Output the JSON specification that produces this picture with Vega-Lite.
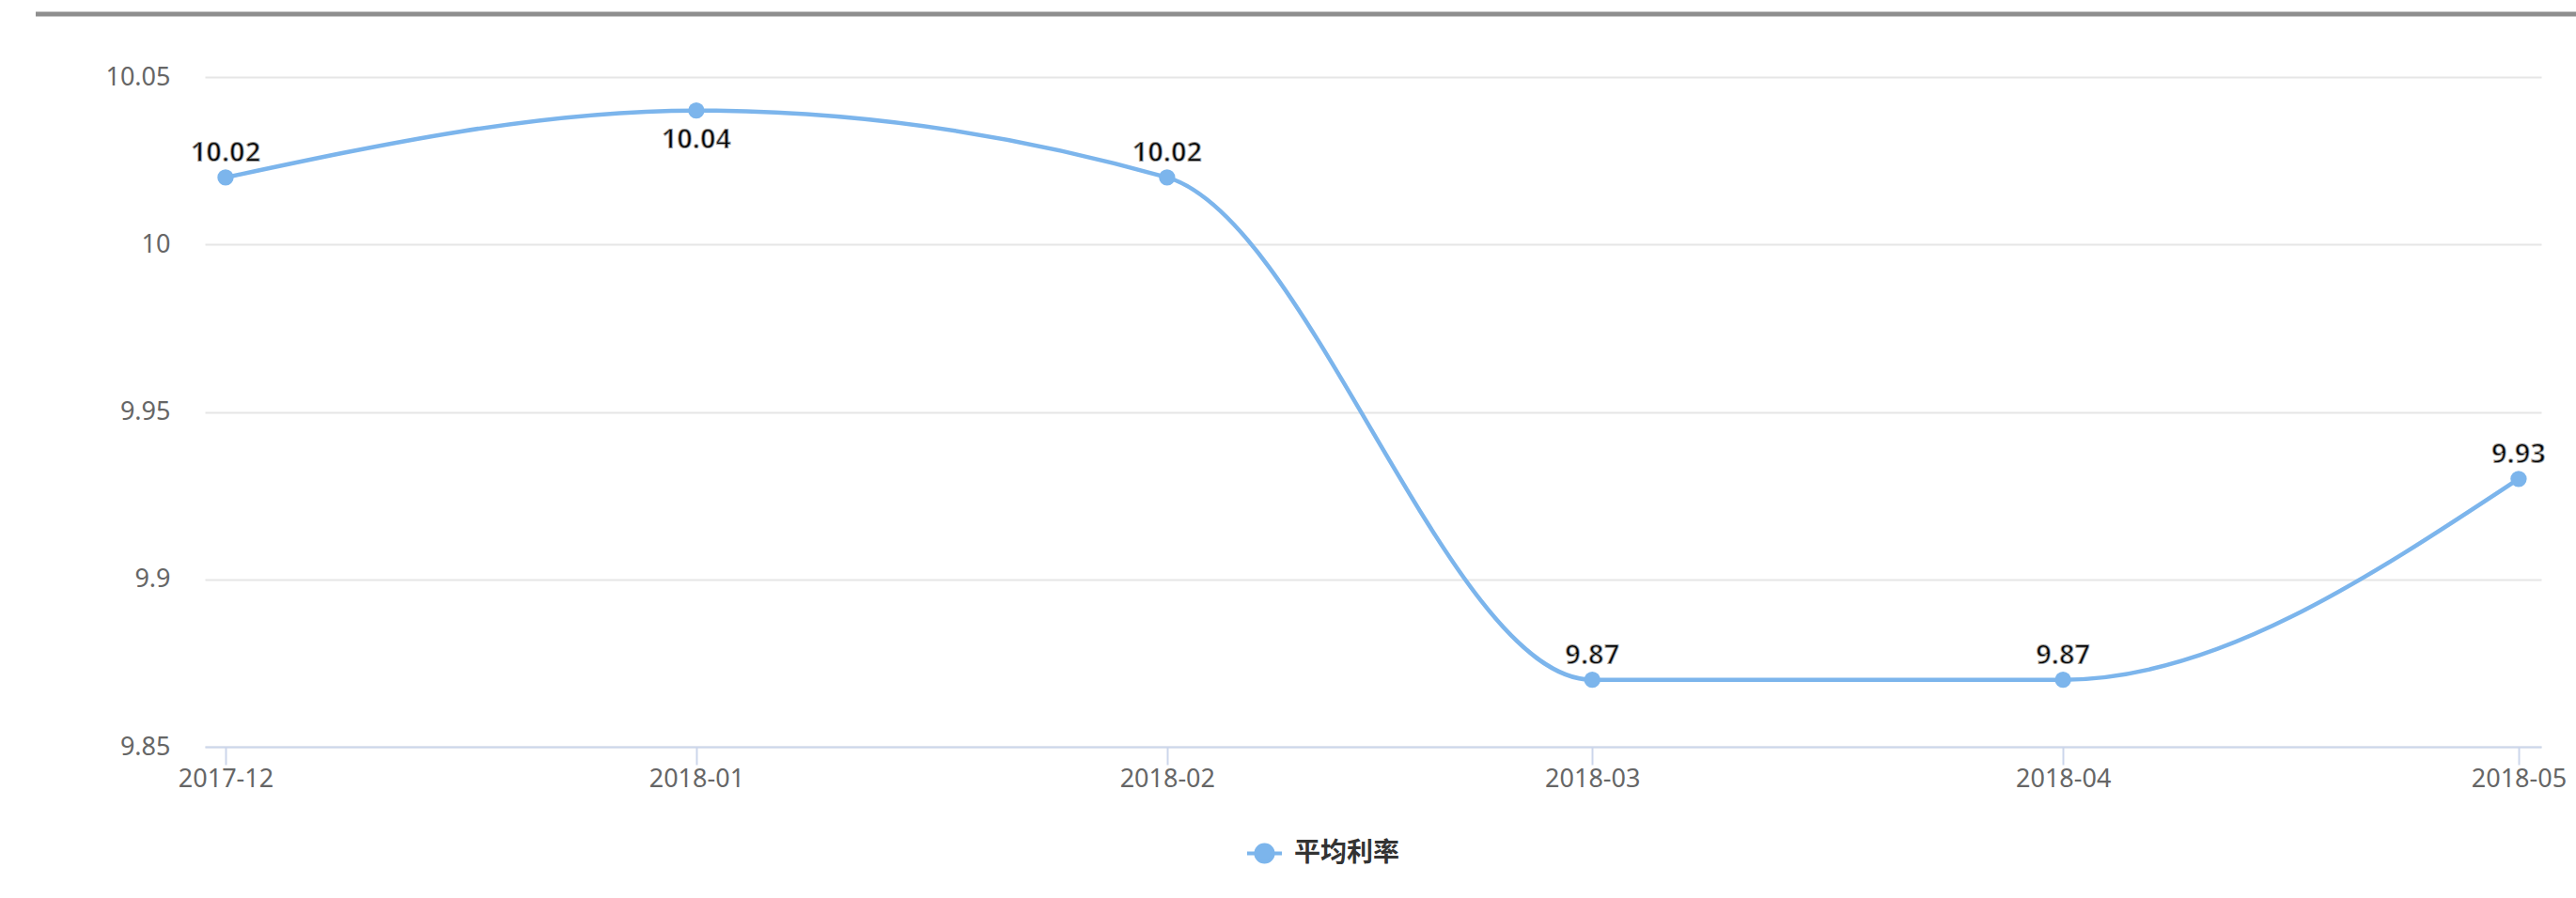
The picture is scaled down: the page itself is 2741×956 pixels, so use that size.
{
  "$schema": "https://vega.github.io/schema/vega-lite/v6.json",
  "width": 2486,
  "height": 713,
  "autosize": {"type": "none"},
  "padding": {"left": 218, "top": 82, "right": 37, "bottom": 161},
  "background": "white",
  "config": {"view": {"stroke": null}, "font": "Noto Sans"},
  "title": {
    "text": "http://www.intdata.com",
    "orient": "bottom",
    "anchor": "end",
    "frame": "group",
    "offset": 148,
    "baseline": "top",
    "fontSize": 20,
    "fontWeight": "normal",
    "color": "#999999",
    "font": "Noto Sans"
  },
  "datasets": {
    "rates": [
      {"month": "2017-12-01", "rate": 10.02, "series": "平均利率"},
      {"month": "2018-01-01", "rate": 10.04, "series": "平均利率"},
      {"month": "2018-02-01", "rate": 10.02, "series": "平均利率"},
      {"month": "2018-03-01", "rate": 9.87, "series": "平均利率"},
      {"month": "2018-04-01", "rate": 9.87, "series": "平均利率"},
      {"month": "2018-05-01", "rate": 9.93, "series": "平均利率"}
    ],
    "frame": [
      {"part": "top border"}
    ]
  },
  "data": {"name": "rates"},
  "layer": [
    {
      "mark": {"type": "line", "interpolate": "monotone", "strokeWidth": 4.5},
      "encoding": {
        "x": {
          "field": "month",
          "type": "temporal",
          "scale": {
            "type": "utc",
            "domain": [
              {"year": 2017, "month": 11, "date": 29, "hours": 15, "minutes": 20, "utc": true},
              {"year": 2018, "month": 5, "date": 2, "hours": 11, "minutes": 45, "utc": true}
            ]
          },
          "axis": {
            "title": null,
            "values": [
              {"year": 2017, "month": 12, "date": 1, "utc": true},
              {"year": 2018, "month": 1, "date": 1, "utc": true},
              {"year": 2018, "month": 2, "date": 1, "utc": true},
              {"year": 2018, "month": 3, "date": 1, "utc": true},
              {"year": 2018, "month": 4, "date": 1, "utc": true},
              {"year": 2018, "month": 5, "date": 1, "utc": true}
            ],
            "labelExpr": "utcFormat(datum.value, '%Y-%m')",
            "grid": false,
            "domainColor": "#ccd6eb",
            "domainWidth": 2,
            "tickColor": "#ccd6eb",
            "tickWidth": 2,
            "tickSize": 19,
            "labelPadding": 2,
            "labelFont": "Noto Sans",
            "labelFontSize": 27,
            "labelColor": "#666666",
            "labelBaseline": "top",
            "labelFlush": false,
            "labelOverlap": false
          }
        },
        "y": {
          "field": "rate",
          "type": "quantitative",
          "scale": {"domain": [9.85, 10.05], "nice": false, "zero": false},
          "axis": {
            "title": null,
            "values": [9.85, 9.9, 9.95, 10, 10.05],
            "format": "~f",
            "domain": false,
            "ticks": false,
            "tickSize": 0,
            "labelPadding": 37,
            "gridColor": "#e6e6e6",
            "gridWidth": 2,
            "labelFont": "Noto Sans",
            "labelFontSize": 27,
            "labelColor": "#666666"
          }
        },
        "color": {
          "field": "series",
          "type": "nominal",
          "scale": {"range": ["#7cb5ec"]},
          "legend": {
            "orient": "none",
            "legendX": 1107,
            "legendY": 806,
            "title": null,
            "symbolType": "M-1,0L1,0M0.49,0A0.49,0.49,0,1,1,-0.49,0A0.49,0.49,0,1,1,0.49,0Z",
            "symbolSize": 1369,
            "symbolStrokeWidth": 4,
            "symbolFillColor": "#7cb5ec",
            "symbolStrokeColor": "#7cb5ec",
            "labelFont": "Noto Sans CJK SC",
            "labelFontSize": 28,
            "labelFontWeight": "bold",
            "labelColor": "#333333",
            "labelOffset": 11,
            "labelLimit": 400,
            "encode": {
              "symbols": {
                "update": {
                  "fill": {"value": "#7cb5ec"},
                  "stroke": {"value": "#7cb5ec"},
                  "strokeWidth": {"value": 4},
                  "opacity": {"value": 1}
                }
              }
            }
          }
        }
      }
    },
    {
      "data": {"name": "frame"},
      "mark": {"type": "rule", "color": "#8e8e8e", "strokeWidth": 5, "clip": false},
      "encoding": {
        "x": {"datum": 1511006400000, "type": "temporal"},
        "x2": {"datum": 1525564800000},
        "y": {"datum": 10.0688, "type": "quantitative"}
      }
    },
    {
      "mark": {"type": "point", "filled": true, "size": 300, "opacity": 1},
      "encoding": {
        "x": {"field": "month", "type": "temporal"},
        "y": {"field": "rate", "type": "quantitative"},
        "color": {"field": "series", "type": "nominal"}
      }
    },
    {
      "transform": [{"filter": "datum.rate != 10.04"}],
      "mark": {
        "type": "text",
        "dy": -17,
        "baseline": "alphabetic",
        "font": "Noto Sans",
        "fontSize": 29,
        "fontWeight": "bold",
        "color": "#000000",
        "stroke": "#ffffff",
        "strokeWidth": 2,
        "strokeOpacity": 0.6
      },
      "encoding": {
        "x": {"field": "month", "type": "temporal"},
        "y": {"field": "rate", "type": "quantitative"},
        "text": {"field": "rate", "type": "quantitative", "format": ".2f"}
      }
    },
    {
      "transform": [{"filter": "datum.rate == 10.04"}],
      "mark": {
        "type": "text",
        "dy": 17,
        "baseline": "top",
        "font": "Noto Sans",
        "fontSize": 29,
        "fontWeight": "bold",
        "color": "#000000",
        "stroke": "#ffffff",
        "strokeWidth": 2,
        "strokeOpacity": 0.6
      },
      "encoding": {
        "x": {"field": "month", "type": "temporal"},
        "y": {"field": "rate", "type": "quantitative"},
        "text": {"field": "rate", "type": "quantitative", "format": ".2f"}
      }
    }
  ]
}
